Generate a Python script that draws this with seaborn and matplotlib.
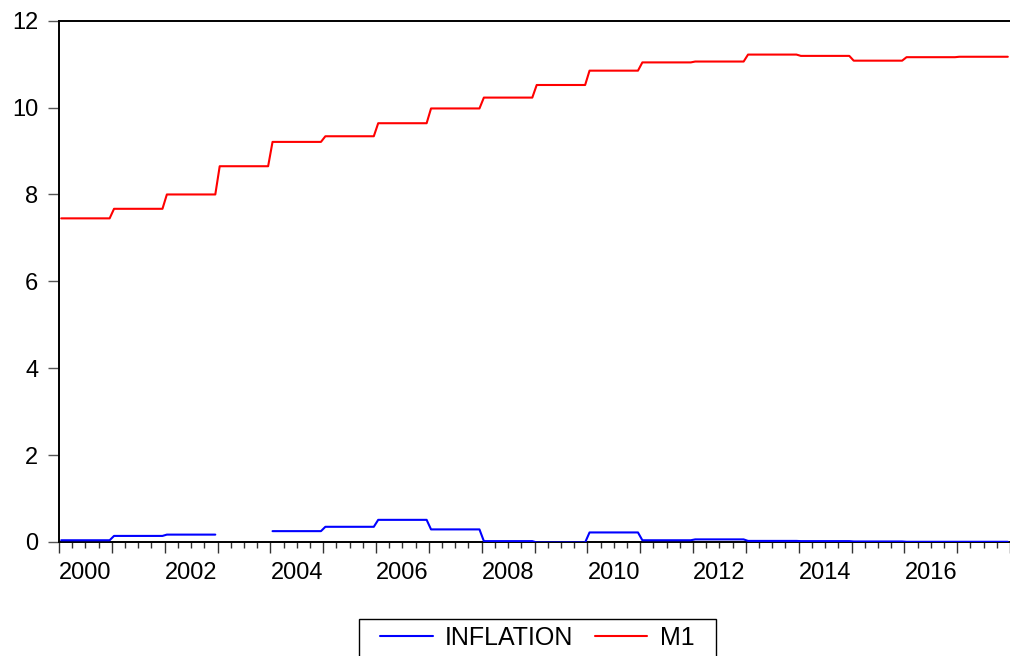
import numpy as np
import pandas as pd
import seaborn as sns
import matplotlib.pyplot as plt
from matplotlib.lines import Line2D
from matplotlib.patches import Rectangle
from matplotlib.transforms import blended_transform_factory

# annual values (held constant through each year, shown monthly)
years = list(range(2000, 2018))
m1 = [7.45, 7.67, 8.00, 8.65, 9.21, 9.34, 9.64, 9.98, 10.23, 10.52,
      10.85, 11.04, 11.06, 11.22, 11.19, 11.08, 11.16, 11.17]
inflation = [0.04, 0.14, 0.17, np.nan, 0.25, 0.35, 0.51, 0.29, 0.02, -0.01,
             0.22, 0.04, 0.06, 0.025, 0.02, 0.012, 0.005, 0.005]
series_names = ['INFLATION', 'M1']
series_colors = {'INFLATION': 'blue', 'M1': 'red'}

sns.set_theme(style='white')
plt.rcParams['font.family'] = ['Liberation Sans', 'DejaVu Sans']
plt.rcParams['text.color'] = 'black'

# monthly observations, plotted at mid-month
months = np.arange(len(years) * 12)
df = pd.DataFrame({
    'date': years[0] + (months + 0.5) / 12,
    'INFLATION': np.repeat(inflation, 12),
    'M1': np.repeat(m1, 12),
})
long = df.melt(id_vars='date', var_name='series', value_name='value')
long['segment'] = long.groupby('series')['value'].transform(lambda s: s.isna().cumsum())
long = long.dropna()

W, H = 1010, 656
fig = plt.figure(figsize=(W / 100, H / 100), dpi=100)
ax = fig.add_axes([59 / W, 1 - 542 / H, 1 - 59 / W, (542 - 20.7) / H])

sns.lineplot(data=long, x='date', y='value', hue='series', units='segment',
             estimator=None, palette=series_colors, linewidth=1.5,
             legend=False, ax=ax)
for line in ax.get_lines():
    line.set_zorder(3)

ax.set_xlim(2000, 2018)
ax.set_ylim(0, 12)
ax.set_xlabel('')
ax.set_ylabel('')

for side in ['left', 'top', 'bottom']:
    ax.spines[side].set_color('black')
    ax.spines[side].set_linewidth(1.4)
ax.spines['right'].set_visible(False)

ax.set_yticks([0, 2, 4, 6, 8, 10, 12])
ax.tick_params(axis='y', left=True, direction='out', length=8, width=1,
               color='#555555', pad=7, labelsize=17, labelcolor='black')

ax.set_xticks(np.arange(2000, 2019))
ax.set_xticks([y + q / 4 for y in range(2000, 2018) for q in (1, 2, 3)], minor=True)
ax.tick_params(axis='x', which='major', bottom=True, direction='out', length=8,
               width=1, color='#333333', labelbottom=False)
ax.tick_params(axis='x', which='minor', bottom=True, direction='out', length=4,
               width=1, color='#333333')

trans = blended_transform_factory(ax.transData, ax.transAxes)
for y in range(2000, 2018, 2):
    ax.text(y + 0.5, -0.059, str(y), transform=trans, ha='center', va='center',
            fontsize=17, color='black')

# legend entries without frame, plus a plain box like the original
handles = [Line2D([], [], color=series_colors[s], lw=1.5) for s in series_names]
leg = fig.legend(handles, series_names, loc='upper center',
                 bbox_to_anchor=(0.532, 1 - 616 / H), ncol=2, frameon=False,
                 fontsize=18, handlelength=2.1, handletextpad=0.5,
                 columnspacing=0.85, borderpad=0.4, borderaxespad=0)
for t in leg.get_texts():
    t.set_color('black')
fig.patches.append(Rectangle((359 / W, 1 - 662 / H), (716 - 359) / W, 43 / H,
                             transform=fig.transFigure, fill=False,
                             edgecolor='black', linewidth=1))

fig.savefig('out.png', dpi=100)
